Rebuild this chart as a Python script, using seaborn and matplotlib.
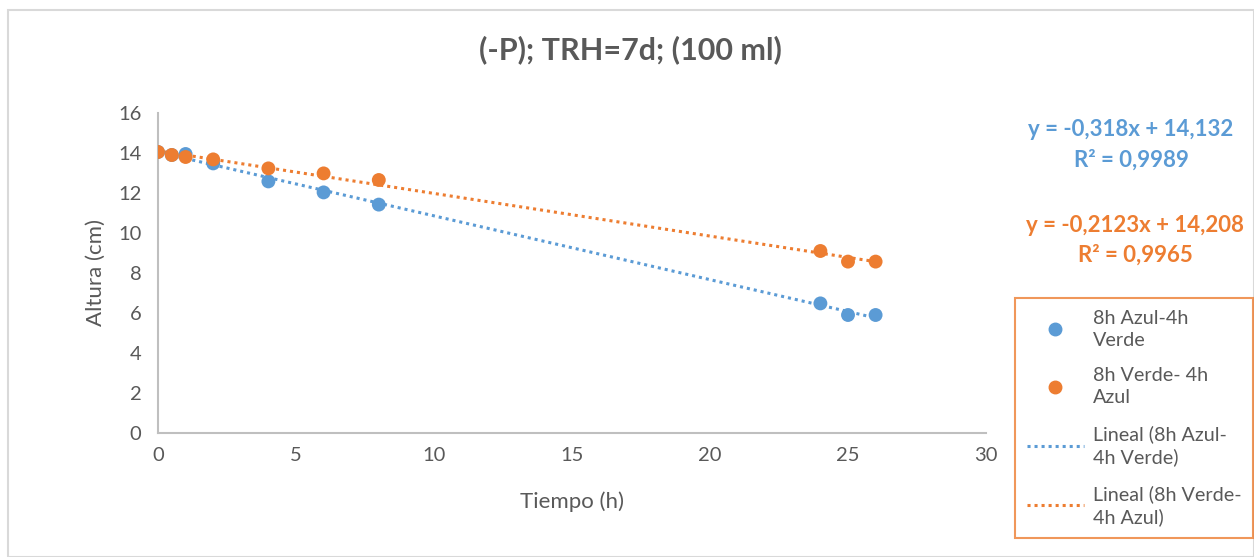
import numpy as np
import pandas as pd
import matplotlib
matplotlib.use("Agg")
import matplotlib.pyplot as plt
from matplotlib.lines import Line2D
from matplotlib.patches import Rectangle
import seaborn as sns

# ---- data ----
tiempo = [0, 0.5, 1, 2, 4, 6, 8, 24, 25, 26]
azul_verde = [14.05, 13.9, 13.95, 13.48, 12.58, 12.03, 11.42, 6.48, 5.9, 5.9]
verde_azul = [14.05, 13.9, 13.8, 13.68, 13.23, 12.98, 12.65, 9.1, 8.57, 8.57]
series_names = ["8h Azul-4h\nVerde", "8h Verde- 4h\nAzul"]
trend_names = ["Lineal (8h Azul-\n4h Verde)", "Lineal (8h Verde-\n4h Azul)"]
eq_azul = ["y = -0,318x + 14,132", "R² = 0,9989"]
eq_verde = ["y = -0,2123x + 14,208", "R² = 0,9965"]
title = "(-P); TRH=7d; (100 ml)"
x_ticks = [0, 5, 10, 15, 20, 25, 30]
y_ticks = [0, 2, 4, 6, 8, 10, 12, 14, 16]

BLUE = "#5B9BD5"
ORANGE = "#ED7D31"
GRAY = "#595959"

sns.set_theme(style="white")
plt.rcParams["font.family"] = ["Lato", "DejaVu Sans"]

W, H = 1254, 557
fig = plt.figure(figsize=(W / 100, H / 100), dpi=100)
ax = fig.add_axes([158 / W, (H - 433) / H, (986 - 158) / W, (433 - 113) / H])

df = pd.DataFrame({"t": tiempo, "a": azul_verde, "v": verde_azul})

for col, color in (("a", BLUE), ("v", ORANGE)):
    sns.regplot(data=df, x="t", y=col, ax=ax, scatter=False, ci=None, color=color,
                line_kws=dict(linestyle=(0, (1, 1.3)), linewidth=2.2))
for col, color in (("a", BLUE), ("v", ORANGE)):
    sns.scatterplot(data=df, x="t", y=col, ax=ax, color=color, s=100,
                    edgecolor="none", zorder=3, legend=False)

ax.set_xlim(0, 30)
ax.set_ylim(0, 16)
ax.set_xticks(x_ticks)
ax.set_yticks(y_ticks)
ax.tick_params(axis="both", length=0, labelsize=14.5, colors=GRAY)
ax.tick_params(axis="x", pad=10)
ax.tick_params(axis="y", pad=12)
ax.set_xlabel("Tiempo (h)", fontsize=16, color=GRAY, labelpad=20)
ax.set_ylabel("Altura (cm)", fontsize=16, color=GRAY)
ax.yaxis.set_label_coords((106 - 158) / (986 - 158), 0.5)
for s in ("top", "right"):
    ax.spines[s].set_visible(False)
for s in ("left", "bottom"):
    ax.spines[s].set_color("#BFBFBF")
    ax.spines[s].set_linewidth(1.5)
ax.grid(False)

fig.text(630 / W, 1 - 50 / H, title, ha="center", va="center", fontsize=22,
         fontweight="bold", color=GRAY)

fig.text(1131 / W, 1 - 130 / H, eq_azul[0], ha="center", va="center",
         fontsize=16, fontweight="bold", color=BLUE)
fig.text(1131 / W, 1 - 160 / H, eq_azul[1], ha="center", va="center",
         fontsize=16, fontweight="bold", color=BLUE)
fig.text(1135 / W, 1 - 225 / H, eq_verde[0], ha="center", va="center",
         fontsize=16, fontweight="bold", color=ORANGE)
fig.text(1135 / W, 1 - 255 / H, eq_verde[1], ha="center", va="center",
         fontsize=16, fontweight="bold", color=ORANGE)

handles = [
    Line2D([], [], marker="o", linestyle="none", color=BLUE, markersize=9),
    Line2D([], [], marker="o", linestyle="none", color=ORANGE, markersize=9),
    Line2D([], [], linestyle=(0, (1, 1.3)), color=BLUE, linewidth=2.2),
    Line2D([], [], linestyle=(0, (1, 1.3)), color=ORANGE, linewidth=2.2),
]
labels = series_names + trend_names
leg = fig.legend(handles, labels, loc="upper left",
                 bbox_to_anchor=(1015 / W, 1 - 298 / H), frameon=True,
                 fontsize=14.2, labelcolor=GRAY, handlelength=2.9,
                 handletextpad=0.45, labelspacing=0.95, borderpad=0.6,
                 borderaxespad=0, fancybox=False)
for t in leg.get_texts():
    t.set_linespacing(1.35)
leg.get_frame().set_edgecolor(ORANGE)
leg.get_frame().set_linewidth(1.5)

fig.add_artist(Rectangle((8 / W, 0), (W - 8) / W, 1 - 10 / H,
                         transform=fig.transFigure, fill=False,
                         edgecolor="#D9D9D9", linewidth=1.5))

fig.savefig("out.png", dpi=100, facecolor="white")
